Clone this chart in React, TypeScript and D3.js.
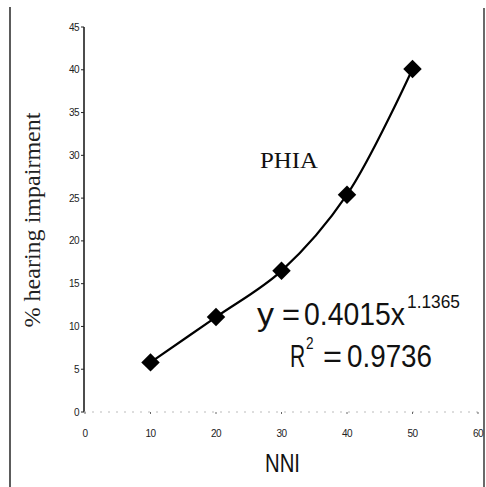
import React from "react";
import * as d3 from "d3";

const nni: number[] = [10, 20, 30, 40, 50];
const impairment: number[] = [5.8, 11.1, 16.5, 25.4, 40.1];
const yTicks: number[] = [0, 5, 10, 15, 20, 25, 30, 35, 40, 45];
const xTicks: number[] = [0, 10, 20, 30, 40, 50, 60];
const seriesLabel = "PHIA";
const xTitle = "NNI";
const yTitle = "% hearing impairment";
const eqCoef = "0.4015x";
const eqExp = "1.1365";
const r2Value = "0.9736";

const W = 486;
const H = 487;

export default function App() {
  const x = d3.scaleLinear().domain([0, 60]).range([85, 478]);
  const y = d3.scaleLinear().domain([0, 45]).range([412, 27]);
  const pts: [number, number][] = nni.map((v, i) => [x(v), y(impairment[i])]);
  const line = d3.line().curve(d3.curveCatmullRom.alpha(0.5))(pts) || "";
  const sym = d3.symbol().type(d3.symbolSquare).size(170)() || "";
  const arial = "Arial, 'Liberation Sans', sans-serif";
  const serif = "'Times New Roman', 'Liberation Serif', serif";
  return (
    <div style={{ position: "absolute", left: 0, top: 0 }}>
      <svg width={W} height={H} style={{ display: "block", background: "#fff" }}>
        {/* frame lines */}
        <line x1={10} x2={10} y1={7} y2={H} stroke="#333" strokeWidth={1.6} />
        <line x1={484} x2={484} y1={8} y2={H} stroke="#444" strokeWidth={1.6} />

        {/* y axis */}
        <line x1={x(0) - 1} x2={x(0) - 1} y1={y(45)} y2={y(0)} stroke="#111" strokeWidth={1.5} />
        {yTicks.map((t) => (
          <g key={"y" + t}>
            <line x1={x(0) - 4} x2={x(0) - 1} y1={y(t)} y2={y(t)} stroke="#222" strokeWidth={1} />
            <text x={x(0) - 6} y={y(t)} dy="0.35em" textAnchor="end" fontFamily={arial} fontSize={10} letterSpacing={-0.6} fill="#222">
              {t}
            </text>
          </g>
        ))}

        {/* x axis (faint in scan) */}
        <line x1={x(0) - 1} x2={x(60)} y1={y(0)} y2={y(0)} stroke="#bbb" strokeWidth={1} strokeDasharray="2 6" />
        {xTicks.map((t) => (
          <g key={"x" + t}>
            <line x1={x(t)} x2={x(t)} y1={y(0)} y2={y(0) + 2} stroke="#666" strokeWidth={1} />
            <text x={x(t)} y={433} dy="0.35em" textAnchor="middle" fontFamily={arial} fontSize={10} letterSpacing={-0.6} fill="#222">
              {t}
            </text>
          </g>
        ))}

        {/* series */}
        <path d={line} fill="none" stroke="#000" strokeWidth={2.2} />
        {pts.map(([px, py], i) => (
          <path key={"p" + i} d={sym} transform={`translate(${px},${py}) rotate(45)`} fill="#000" />
        ))}

        {/* labels */}
        <text x={260} y={168} fontFamily={serif} fontSize={24} textLength={58} lengthAdjust="spacingAndGlyphs" fill="#111">
          {seriesLabel}
        </text>

        <text fontFamily={arial} fill="#111">
          <tspan x={257} y={325} fontSize={31} textLength={17} lengthAdjust="spacingAndGlyphs">y</tspan>
          <tspan x={282} y={325} fontSize={31} textLength={18} lengthAdjust="spacingAndGlyphs">=</tspan>
          <tspan x={304} y={325} fontSize={31} textLength={101} lengthAdjust="spacingAndGlyphs">{eqCoef}</tspan>
          <tspan x={407} y={308} fontSize={18} textLength={53} lengthAdjust="spacingAndGlyphs">{eqExp}</tspan>
        </text>

        <g transform="translate(290,367) scale(0.68,1)">
          <text x={0} y={0} fontFamily={arial} fontSize={31} fill="#111">R</text>
        </g>
        <g transform="translate(306,349) scale(0.85,1)">
          <text x={0} y={0} fontFamily={arial} fontSize={16} fill="#111">2</text>
        </g>
        <text fontFamily={arial} fill="#111">
          <tspan x={323} y={367} fontSize={31} textLength={19} lengthAdjust="spacingAndGlyphs">=</tspan>
          <tspan x={347} y={367} fontSize={31} textLength={85} lengthAdjust="spacingAndGlyphs">{r2Value}</tspan>
        </text>

        <text x={265} y={472} fontFamily={arial} fontSize={26} textLength={35} lengthAdjust="spacingAndGlyphs" fill="#111">
          {xTitle}
        </text>

        <text
          transform={`translate(40,220) rotate(-90)`}
          textAnchor="middle"
          fontFamily={serif}
          fontSize={23}
          textLength={215}
          lengthAdjust="spacingAndGlyphs"
          fill="#222"
        >
          {yTitle}
        </text>
      </svg>
    </div>
  );
}
